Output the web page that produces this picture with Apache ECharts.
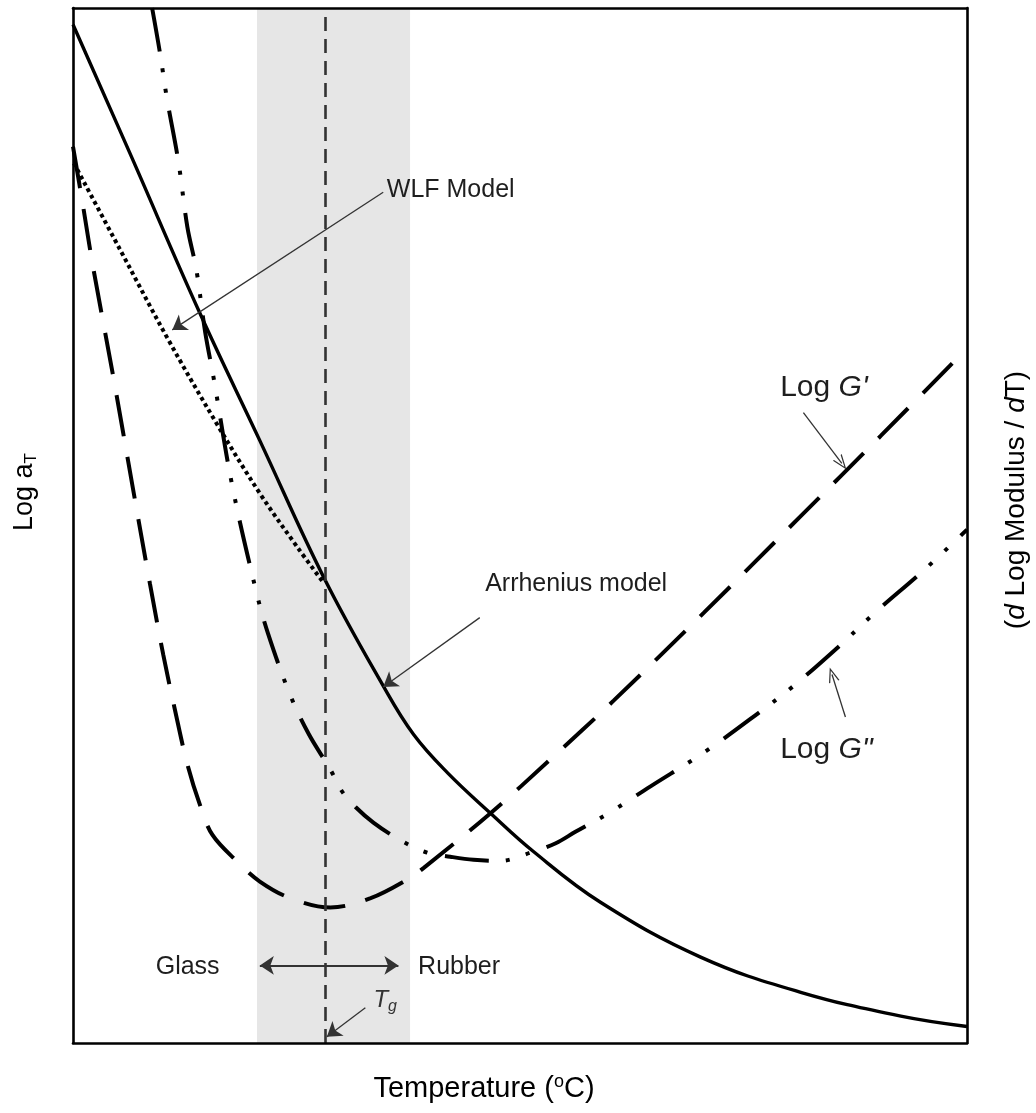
<!DOCTYPE html>
<html>
<head>
<meta charset="utf-8">
<script src="https://cdn.jsdelivr.net/npm/echarts@6/dist/echarts.min.js"></script>
<style>html,body{margin:0;padding:0;background:#fff}#c{width:1036px;height:1113px}</style>
</head>
<body>
<div id="c"></div>
<script>
// ---- data (arbitrary units, x: temperature 0-100, y: 0-100) ----
const arrhenius = [[0,98.4],[6.4,85.9],[14.2,70.5],[20.9,58.2],[28.1,44.9],[34.7,34.5],[38.1,29.8],[41.9,26.1],[46.7,22.2],[51.5,18.5],[59.0,13.6],[70.2,8.3],[81.4,4.9],[92.6,2.6],[100,1.6]];
const wlf = [[0.1,85.0],[5.3,76.6],[10.5,68.2],[16.1,59.8],[20.9,53.1],[25.1,47.9],[28.0,44.5]];
const logGp = [[0,86.6],[1.1,81.0],[2.2,75.2],[4.5,64.4],[6.7,53.6],[8.6,44.4],[10.1,37.5],[11.4,32.2],[12.8,26.9],[14.2,23.0],[15.6,20.1],[18.4,17.5],[20.9,15.6],[24.3,14.0],[28.8,13.1],[33.3,14.0],[37.4,15.8],[39.2,16.9],[46.7,22.2],[53.4,27.4],[60.5,33.1],[70.6,41.6],[81.4,50.9],[90.4,58.7],[99.3,66.5]];
const logGpp = [[8.85,100],[9.74,95.6],[10.5,91.3],[11.8,85.1],[12.8,78.8],[13.8,74.7],[14.8,68.6],[15.7,64.4],[17.8,53.9],[20.5,43.6],[21.8,39.6],[24.3,33.6],[26.4,29.8],[28.8,26.4],[30.1,24.3],[31.6,22.8],[33.6,21.3],[36.6,19.6],[39.6,18.4],[42.2,18.0],[44.8,17.7],[47.8,17.6],[51.2,18.4],[54.0,19.3],[56.2,20.4],[60.1,22.3],[64.6,24.8],[70.8,28.2],[76.7,31.9],[80.6,34.5],[85.9,38.5],[89.6,41.5],[95.2,45.7],[100,49.6]];
const transitionBand = [20.58, 37.70];
const tgValue = 28.19;
const labelTexts = ['WLF Model','Arrhenius model','Log G\'','Log G"','Glass','Rubber','Tg'];
const labelPos = [[35.1,82.4],[46.1,44.3],[79.1,63.3],[79.1,28.3],[16.4,7.3],[38.6,7.3],[33.6,4.1]];
const arrowFrom = [[34.7,82.2],[45.5,41.1],[81.7,60.9],[86.4,31.5],[32.7,3.4]];
const arrowTo = [[11.1,68.9],[34.7,34.4],[86.0,56.0],[84.9,35.6],[28.4,0.6]];
const glassRubberArrow = [[20.9,7.5],[36.4,7.5]];

const FF = '"Liberation Sans", Arial, Helvetica, sans-serif';
const TC = '#1e1e1e';
const chart = echarts.init(document.getElementById('c'), null, {renderer:'canvas'});

const richBase = {
  n: {fontFamily:FF, fontSize:25, color:TC, lineHeight:36},
  big: {fontFamily:FF, fontSize:30, color:TC, lineHeight:40},
  bigi: {fontFamily:FF, fontSize:30, color:TC, fontStyle:'italic', lineHeight:40},
  ti: {fontFamily:FF, fontSize:24, color:'#333', fontStyle:'italic', lineHeight:36},
  tsub: {fontFamily:FF, fontSize:16, color:'#333', fontStyle:'italic', lineHeight:16, padding:[12,0,0,0]}
};
function fmtLabel(i){
  const t = labelTexts[i];
  if (i===2) return '{big|Log }{bigi|G\'}';
  if (i===3) return '{big|Log }{bigi|G"}';
  if (i===6) return '{ti|T}{tsub|g}';
  return '{n|' + t + '}';
}
const labelData = labelPos.map((p,i)=>({
  value:p,
  label:{show:true, position: (i===4?'left':'right'), distance:0, color:TC, opacity:1, formatter: fmtLabel(i), rich: richBase}
}));

const openHead = 'path://M0,14 L5,0 L10,14 L8.8,14 L5,3.2 L1.2,14 Z';
const arrowLines = arrowFrom.map((f,i)=>[
  {coord:f, symbol:'none'},
  {coord:arrowTo[i], symbol: (i===2||i===3)? openHead : 'arrow', symbolSize: (i===2||i===3)? [11,15] : 14}
]);
arrowLines.push([
  {coord:glassRubberArrow[0], symbol:'arrow', symbolSize:14},
  {coord:glassRubberArrow[1], symbol:'arrow', symbolSize:14, lineStyle:{width:2.2}}
]);

const axisCommon = {type:'value', min:0, max:100, z:10,
  axisLine:{show:true, onZero:false, lineStyle:{color:'#000', width:2.6}},
  axisTick:{show:false}, axisLabel:{show:false}, splitLine:{show:false}};

const lineCommon = {smooth:0.35, showSymbol:false, symbol:'none', silent:true};

const option = {
  animation:false,
  backgroundColor:'#fff',
  grid:{left:73, right:69, top:8, bottom:70},
  xAxis:[Object.assign({position:'bottom'}, axisCommon), Object.assign({position:'top'}, axisCommon)],
  yAxis:[Object.assign({position:'left'}, axisCommon), Object.assign({position:'right'}, axisCommon)],
  series:[
    {type:'line', name:'band', data:[], z:1, silent:true,
      markArea:{silent:true, itemStyle:{color:'#e6e6e6'}, data:[[{xAxis:transitionBand[0]},{xAxis:transitionBand[1]}]]},
      markLine:{silent:true, symbol:['none','none'], label:{show:false},
        lineStyle:{type:[14,8], width:2.6, color:'#333'}, data:[{xAxis:tgValue}]}
    },
    Object.assign({type:'line', name:'WLF Model', data:wlf, z:3,
      lineStyle:{color:'#000', width:4, type:[3.8,3.4]}}, lineCommon),
    Object.assign({type:'line', name:'Arrhenius model', data:arrhenius, z:4,
      lineStyle:{color:'#000', width:3.4, type:'solid'}}, lineCommon, {smooth:0.4}),
    Object.assign({type:'line', name:'Log G\'', data:logGp, z:3,
      lineStyle:{color:'#000', width:4, type:[42,21]}}, lineCommon),
    Object.assign({type:'line', name:'Log G"', data:logGpp, z:3,
      lineStyle:{color:'#000', width:4, type:[44,17,4,17,4,18]}}, lineCommon),
    {type:'scatter', name:'labels', data:labelData, symbolSize:0, z:6, silent:true,
      itemStyle:{opacity:1},
      markLine:{silent:true, symbol:['none','arrow'], label:{show:false}, precision:4,
        lineStyle:{type:'solid', width:1.3, color:'#333', opacity:1}, data:arrowLines}}
  ],
  graphic:[
    {type:'text', x:25, y:492, rotation:Math.PI/2, z:20,
      style:{text:'{a|Log a}{s|T}', align:'center', verticalAlign:'middle',
        rich:{a:{fontFamily:FF, fontSize:27, color:TC, lineHeight:36}, s:{fontFamily:FF, fontSize:17, color:TC, lineHeight:17, padding:[12,0,0,0]}}}},
    {type:'text', x:1016, y:500, rotation:Math.PI/2, z:20,
      style:{text:'{a|(}{i|d}{a| Log Modulus / }{i|d}{a|T)}', align:'center', verticalAlign:'middle',
        rich:{a:{fontFamily:FF, fontSize:28, color:TC, lineHeight:36}, i:{fontFamily:FF, fontSize:28, color:TC, fontStyle:'italic', lineHeight:36}}}},
    {type:'text', x:484, y:1089, z:20,
      style:{text:'{a|Temperature (}{o|o}{a|C)}', align:'center', verticalAlign:'middle',
        rich:{a:{fontFamily:FF, fontSize:29, color:TC, lineHeight:38}, o:{fontFamily:FF, fontSize:18, color:TC, lineHeight:18, padding:[0,0,14,0]}}}}
  ]
};
chart.setOption(option);
</script>
</body>
</html>
